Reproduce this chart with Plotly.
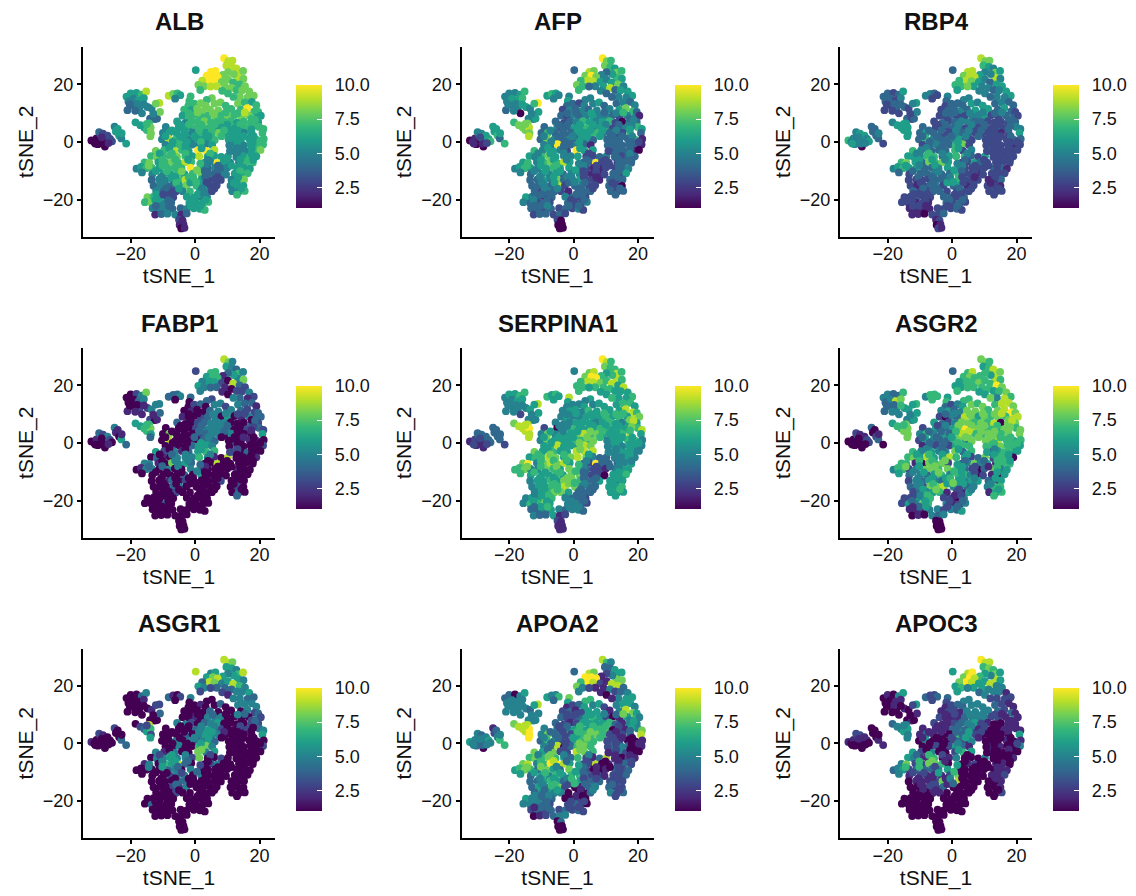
import plotly.graph_objects as go

TSNE_1 = [
 -32.2,-31.3,-30.6,-30.0,-29.4,-28.7,-28.0,-27.4,-29.8,-28.6,-27.2,-26.4,-25.8,-30.2,-28.3,-26.9,-29.0,-31.0,
 -25.0,-24.6,-24.0,-23.6,-22.9,-22.8,-21.4,
 -21.3,-20.0,-18.2,-16.6,-15.2,-20.7,-19.1,-17.5,-15.9,-21.0,-19.0,-17.3,-16.5,-14.8,-13.5,-14.0,-12.5,-11.8,-11.1,-10.9,-12.2,-18.0,-15.9,-13.0,-20.3,-18.6,
 -18.5,-17.0,-15.8,-15.0,-14.3,-13.8,-13.7,-13.9,-15.0,
 -8.2,-6.8,-5.5,-4.6,-6.2,
 9.0,10.3,11.6,9.7,11.4,12.8,13.4,14.9,13.3,15.0,12.0,10.2,8.6,
 4.9,6.3,3.6,5.5,7.0,4.4,6.0,2.2,1.0,2.8,0.2,8.3,10.2,11.8,13.8,15.5,6.7,4.8,9.3,11.3,
 1.6,12.9,14.6,16.8,8.4,10.2,
 -1.4,-1.8,5.2,3.6,18.2,16.3,13.9,11.9,
 -2.1,-0.3,1.7,3.3,6.0,7.9,9.5,13.3,15.4,17.6,19.0,
 -3.4,-1.2,0.6,2.4,4.6,7.2,11.2,14.2,16.2,18.4,19.6,
 -3.9,-2.0,0.0,1.8,3.9,6.2,8.2,10.1,12.2,14.3,16.6,19.2,20.4,
 -5.6,-3.0,-1.1,0.8,2.9,4.9,7.0,9.0,11.1,13.0,15.1,17.3,19.6,
 -9.1,-5.1,-3.8,-1.9,0.2,2.2,4.1,6.1,8.2,10.1,12.1,14.2,16.1,19.9,21.2,
 -10.0,-8.0,-5.7,-2.8,-0.8,1.3,3.2,5.2,7.3,9.1,11.2,13.1,15.2,17.6,20.9,
 -10.3,-8.3,-6.1,-3.9,-1.6,0.4,2.4,4.3,6.1,12.0,14.2,16.8,19.2,21.3,
 -9.2,-7.1,-5.0,-3.0,-0.9,1.1,3.3,5.3,12.6,15.1,17.2,19.4,21.1,
 -12.2,-9.6,-6.3,-4.1,-2.0,0.9,3.4,6.0,12.0,14.1,16.2,18.8,20.3,
 -13.7,-11.9,-9.9,-7.8,-5.6,-3.0,-0.9,3.9,5.9,8.1,10.2,12.8,14.9,17.0,19.0,
 -15.7,-14.2,-11.4,-9.2,-7.2,-5.2,-3.1,-1.2,3.0,4.8,6.9,8.8,10.9,13.6,15.8,17.9,
 -18.2,-16.8,-15.2,-13.4,-11.2,-8.4,-6.3,-4.2,-1.4,2.2,4.0,6.2,8.1,10.0,13.0,15.1,17.0,
 -16.5,-13.3,-9.8,-7.6,-5.5,-3.3,-0.7,1.9,3.8,5.7,7.6,9.6,12.3,14.4,16.3,
 -13.5,-11.2,-9.3,-7.2,-5.0,-3.0,-0.4,2.0,4.1,6.2,8.0,11.3,13.2,15.2,
 -12.9,-10.8,-8.7,-6.8,-4.9,-2.7,0.4,2.6,4.8,6.7,11.0,13.0,15.0,
 -12.1,-10.0,-8.0,-6.0,-3.9,-1.6,1.5,3.5,5.2,11.5,13.5,15.4,
 -14.8,-12.9,-10.9,-8.8,-6.8,-2.6,-0.4,1.6,3.7,
 -15.6,-13.5,-11.3,-9.2,-7.4,-1.8,0.3,2.4,4.1,
 -13.2,-11.3,-9.2,-7.0,-4.5,-2.6,-0.4,1.5,3.0,
 -12.4,-10.5,-8.6,-6.2,-4.3,-2.6,
 -5.0,-3.9,-4.8,-3.6,-4.3,-3.3,
 10.4,10.6,10.8,
 -2.0,0.8,5.5,9.5,13.2,15.4,17.5,18.6,
 -4.5,-2.0,1.9,6.0,10.0,14.0,18.0,
 -7.2,-3.4,1.2,5.2,9.0,13.2,17.5,
 -9.2,-4.8,-0.2,4.2,8.2,12.2,15.0,18.2,
 -7.0,-2.5,1.8,13.1,18.0,20.2,
 -8.0,-3.0,2.0,13.2,17.6,
 -11.0,-7.2,-3.0,4.7,13.0,17.5,
 -10.2,-6.2,-2.2,4.0,9.9,14.0,18.0,
 -14.4,-10.2,-5.3,3.2,7.1,11.3,14.0,
 -12.2,-8.8,-4.2,3.0,7.0,14.0,
 -10.5,-6.2,-2.0,3.1,7.0,13.4,
 -9.8,-5.9,-1.5,3.5,12.0,
 -9.0,-5.0,2.2,6.0,14.4,
 -12.0,-9.9,-7.7,0.8,2.8,13.0,
 -12.4,-8.3,-0.8,3.3,
 -10.2,-8.1,-1.4,1.6,-12.2,
 1.3,1.6,0.6,-0.6,0.3,
]
TSNE_2 = [
 0.5,0.0,1.2,-0.6,2.6,0.4,-1.6,0.8,3.4,2.9,2.2,1.0,0.2,-0.8,-0.6,-0.4,1.6,-0.6,
 5.3,3.6,4.5,2.2,1.2,3.0,-0.6,
 15.7,16.8,17.0,16.4,17.5,14.0,15.0,14.5,15.2,11.0,12.5,11.6,9.9,12.1,11.6,8.1,7.9,8.1,13.5,10.4,13.3,13.2,13.0,9.8,13.0,10.8,
 6.8,5.8,5.0,4.1,6.4,5.0,3.0,2.0,6.2,
 16.0,16.6,16.8,16.2,15.0,
 29.0,28.0,28.2,26.5,26.0,25.5,24.0,24.6,22.3,21.9,23.5,24.2,23.2,
 24.3,24.6,23.0,23.0,22.5,21.3,21.1,21.2,19.8,19.3,24.9,20.8,21.6,20.6,19.9,19.3,19.3,19.2,19.2,18.7,
 18.0,18.0,17.9,17.5,17.7,16.8,
 15.8,14.2,15.2,14.6,16.0,15.4,15.6,15.6,
 12.5,13.3,13.4,12.6,13.3,13.7,12.6,13.3,13.7,13.9,12.7,
 11.2,11.0,11.5,10.7,11.2,10.9,11.4,11.2,11.7,10.6,10.4,
 9.1,8.9,9.4,8.6,9.0,8.7,9.2,9.0,9.3,8.6,9.2,8.4,9.1,
 7.1,6.6,7.2,6.9,7.2,6.8,7.1,6.9,7.2,6.7,7.0,6.7,6.9,
 5.2,5.1,4.9,5.2,4.8,5.1,4.7,5.2,4.9,5.1,4.7,5.1,4.8,5.2,4.5,
 3.1,3.2,3.0,2.7,3.2,2.9,3.2,2.7,3.1,2.8,3.2,2.7,3.1,2.8,3.1,
 0.9,1.2,0.8,1.1,0.7,1.2,0.8,1.1,0.7,1.0,0.6,1.1,0.7,1.0,
 -1.0,-1.3,-0.8,-1.2,-0.9,-1.2,-0.8,-1.1,-0.9,-1.2,-0.8,-1.2,-0.9,
 -3.1,-2.9,-3.2,-2.8,-3.2,-2.9,-3.1,-2.8,-3.2,-2.8,-3.3,-3.0,-2.8,
 -4.9,-5.2,-5.1,-4.8,-5.2,-5.0,-4.9,-5.1,-4.8,-5.2,-5.0,-5.2,-4.9,-5.1,-5.0,
 -7.1,-7.3,-7.0,-7.2,-6.9,-7.3,-7.1,-6.9,-7.2,-6.9,-7.3,-7.0,-7.2,-7.1,-6.9,-7.2,
 -9.3,-8.7,-9.1,-9.0,-9.2,-9.3,-8.9,-9.2,-9.0,-8.9,-9.2,-9.0,-9.3,-8.9,-9.1,-9.0,-9.3,
 -10.6,-11.2,-11.0,-11.3,-10.9,-11.2,-11.0,-11.2,-10.9,-11.2,-11.0,-11.3,-11.0,-11.2,-10.9,
 -13.2,-13.0,-13.3,-12.9,-13.2,-13.1,-13.2,-13.0,-13.3,-13.0,-13.2,-13.1,-13.3,-13.0,
 -15.2,-15.0,-15.3,-15.0,-15.2,-15.1,-15.2,-15.0,-15.3,-15.0,-15.2,-15.0,-15.3,
 -17.0,-17.3,-17.0,-17.2,-17.1,-17.2,-17.0,-17.3,-17.1,-17.1,-17.3,-17.0,
 -19.2,-19.0,-19.3,-19.0,-19.2,-19.0,-19.3,-19.0,-19.2,
 -20.9,-21.2,-21.0,-21.2,-21.0,-21.2,-21.0,-21.2,-20.8,
 -23.0,-23.2,-23.0,-23.2,-23.0,-23.2,-23.0,-23.2,-23.6,
 -25.2,-25.0,-24.9,-25.2,-25.2,-24.8,
 -27.0,-27.2,-28.8,-28.6,-30.0,-29.8,
 0.8,-1.2,-3.2,
 10.0,10.2,10.0,10.2,10.0,10.2,8.0,7.7,
 6.0,6.0,6.0,6.0,6.0,6.0,5.5,
 4.0,4.0,4.0,4.0,4.0,4.0,4.3,
 2.0,2.0,2.0,2.0,2.0,2.0,2.0,1.9,
 0.0,0.0,0.0,-0.1,-0.1,0.0,
 -2.1,-2.2,-2.2,-2.2,-2.1,
 -4.0,-4.0,-4.0,-4.0,-4.1,-4.1,
 -6.2,-6.1,-6.1,-6.2,-6.2,-6.1,-6.2,
 -8.2,-8.1,-8.1,-8.2,-8.2,-8.2,-8.3,
 -10.1,-10.2,-10.2,-10.1,-10.2,-10.1,
 -12.1,-12.1,-12.2,-12.1,-12.2,-12.2,
 -14.1,-14.2,-14.1,-14.1,-14.2,
 -16.1,-16.2,-16.1,-16.2,-16.1,
 -18.1,-18.2,-18.1,-18.2,-18.2,-18.3,
 -20.1,-20.2,-20.1,-20.1,
 -22.1,-22.1,-22.1,-22.1,-22.2,
 -5.0,-7.5,-9.8,-12.2,-13.9,
]

ALB = [
 1,1,1,1,3,2,1,2,4,3,3,3,3,1,1,2,2,1, 5,6,6,6,5,6,6,
 6,6,6,7,9,5,5,6,6,4,4,5,5,5,5,4,4,4,9,8,8,5,5,5,4,4, 6,6,6,7,7,8,8,8,7, 9,8,7,6,5,
 10,9,9,9,9,9,9,8,9,8,8,8,8, 10,10,10,10,10,10,10,9,8,8,6,8,8,7,7,8,9,9,8,8, 7,7,8,8,7,7,
 7,7,8,7,8,8,8,7, 7,7,8,8,8,8,7,8,7,6,7, 7,6,8,8,8,8,7,7,10,7,7, 6,7,7,7,7,8,7,8,7,8,8,6,6,
 6,5,7,7,8,7,7,7,7,6,7,7,6, 5,6,6,6,7,7,7,6,6,6,6,6,7,7,7,
 5,6,6,6,5,7,6,7,8,6,6,6,5,6,7, 5,9,7,6,5,6,6,6,7,6,6,6,7,7, 5,6,7,6,5,5,5,6,5,5,6,7,7, 8,7,9,7,6,10,10,9,5,5,5,7,8,
 7,8,7,7,8,7,6,6,6,6,6,5,6,7,6, 7,8,6,7,8,7,9,7,6,5,10,6,5,5,7,7, 5,6,7,7,6,7,7,7,10,6,4,5,4,5,6,6,6,
 5,5,6,6,7,6,7,8,4,4,5,5,6,6,7, 4,5,5,6,7,9,8,6,3,3,3,5,6,8,
 4,5,4,4,6,8,7,6,3,3,5,6,6, 5,4,3,3,5,7,6,5,3,5,5,7, 8,7,6,4,3,6,6,5,5, 7,8,6,5,4,6,6,6,7, 5,5,5,4,4,5,6,6,7, 2,4,5,5,2,4, 3,2,2,2,1,2,
 6,5,5, 7,8,8,7,7,9,7,7, 6,7,7,7,6,7,7, 6,6,7,7,7,6,6, 6,6,6,6,7,6,6,6, 6,6,7,6,6,7, 6,6,6,5,6, 6,7,7,7,5,6, 7,7,6,5,6,6,6,
 8,7,7,5,4,6,6, 6,7,8,4,4,7, 5,6,7,4,3,6, 5,7,6,3,6, 4,6,5,3,6, 6,3,3,6,5,7, 6,4,6,6, 5,4,6,6,4,
 9,7,8,7,7,
]
AFP = [
 1,2,2,1,4,3,1,4,5,5,6,6,7,1,2,3,3,2, 6,6,6,7,4,6,7,
 5,5,5,6,7,5,6,6,7,4,5,5,1,6,5,5,5,6,10,6,7,5,6,5,5,5, 7,8,8,8,8,9,8,9,8, 6,7,6,5,5,
 10,8,7,8,7,6,8,7,7,6,6,4,5, 9,8,8,10,8,9,9,7,8,7,4,6,5,6,8,5,5,4,6,9, 7,4,6,6,5,4,
 5,6,5,5,6,5,5,4, 4,4,3,5,5,6,4,4,5,4,5, 3,5,4,5,4,5,5,6,8,7,4, 4,3,5,4,5,6,5,5,4,3,5,5,2,
 4,3,4,5,7,6,5,6,7,3,1,5,4, 4,5,3,4,6,6,7,5,6,7,3,4,5,7,6,
 4,7,4,4,4,6,6,7,7,5,4,3,3,7,4, 4,8,5,4,5,4,6,6,4,4,4,4,7,2, 5,4,10,4,4,5,4,2,4,4,4,4,2, 7,5,6,5,3,10,6,6,3,4,4,2,1,
 6,5,7,8,6,5,5,3,3,4,5,4,3,4,4, 6,7,5,7,8,7,9,6,4,4,10,3,3,3,4,4, 5,6,7,6,5,6,7,6,6,4,3,2,2,3,3,4,5,
 5,4,5,5,6,4,5,5,3,2,2,3,4,3,6, 4,4,6,5,8,4,5,6,3,3,2,4,3,4,
 4,4,5,4,9,3,4,5,3,3,4,3,1, 4,3,5,4,3,2,4,4,4,4,3,4, 6,5,4,1,4,5,4,3,3, 5,4,3,4,3,4,3,3,5, 4,4,3,4,3,4,3,5,3, 3,4,4,3,4,3, 3,1,1,1,1,1,
 4,4,3, 4,4,6,4,5,7,4,5, 4,4,6,6,5,4,5, 5,4,6,6,6,5,6, 5,4,5,6,6,4,4,5, 5,4,6,4,4,3, 6,4,6,4,4, 5,6,5,3,4,5, 6,6,5,4,3,4,4,
 7,6,7,5,3,3,4, 5,6,6,3,3,4, 5,6,5,3,2,4, 5,6,4,4,3, 5,5,4,3,4, 4,4,4,4,4,4, 5,4,3,4, 4,5,4,4,4,
 6,5,6,5,5,
]
RBP4 = [
 7,5,5,4,5,5,1,4,5,6,6,5,6,5,5,5,5,6, 4,4,4,4,4,5,3,
 4,4,3,4,6,4,4,3,5,3,3,4,3,4,3,4,3,4,6,5,5,4,4,3,3,3, 5,6,6,6,6,6,6,6,6, 5,5,4,3,3,
 9,8,8,7,6,5,8,6,9,5,5,5,6, 9,9,8,9,9,9,8,7,7,7,4,6,5,4,6,6,6,8,5,5, 6,4,5,6,5,5,
 5,4,5,5,6,5,5,4, 3,4,4,4,6,5,6,4,5,4,4, 3,4,4,5,4,6,6,4,6,4,3, 3,3,4,3,3,5,5,6,3,3,4,4,3,
 3,4,3,4,5,5,4,4,3,3,3,3,4, 4,3,3,3,4,5,3,3,3,4,3,4,3,5,5,
 4,6,4,3,3,5,4,4,3,3,3,3,2,3,6, 4,7,5,4,4,5,6,3,3,3,3,3,4,4, 3,4,5,4,4,7,8,3,3,3,3,2,3, 7,5,4,4,4,7,3,5,3,3,3,3,3,
 6,6,5,7,7,4,6,7,4,3,6,3,3,3,3, 7,8,6,4,8,7,8,6,3,3,6,4,3,3,3,3, 5,6,7,6,6,4,4,5,6,5,3,3,3,3,4,4,2,
 4,3,4,4,5,4,4,7,3,3,2,3,3,3,3, 3,3,3,3,4,4,6,7,3,3,3,2,2,4,
 3,2,3,4,5,3,4,6,2,3,3,3,2, 4,3,3,4,4,3,3,3,3,3,3,3, 3,3,4,3,3,4,4,3,4, 3,3,2,3,2,4,3,4,3, 2,2,2,2,3,3,3,4,3, 2,2,1,3,3,4, 2,3,1,2,3,2,
 3,3,3, 4,4,5,5,4,5,4,4, 3,4,5,5,4,3,4, 4,4,5,5,4,3,4, 4,4,4,5,4,3,3,4, 4,4,6,3,3,3, 5,4,6,3,3, 5,7,5,5,3,3, 6,6,5,4,3,3,3,
 6,5,6,5,3,3,3, 4,4,5,4,3,3, 4,4,4,3,2,3, 3,4,6,3,2, 4,4,4,3,3, 3,3,3,3,3,3, 3,3,4,4, 3,2,3,4,3,
 7,5,6,5,6,
]
FABP1 = [
 1,1,2,1,3,1,1,4,4,3,5,3,1,1,1,2,1,1, 5,2,2,1,6,2,4,
 1,1,3,5,8,1,1,4,5,2,1,3,2,3,5,3,1,2,5,4,5,1,2,2,1,2, 6,6,7,7,7,8,6,4,7, 4,4,4,5,1,
 9,8,5,6,5,4,7,5,5,8,6,4,2, 7,7,6,7,7,6,6,5,6,5,3,3,1,9,4,3,4,4,2,1, 5,3,3,5,2,1,
 4,1,3,4,3,2,4,5, 1,3,4,1,5,5,3,5,4,4,2, 1,2,1,1,4,5,5,4,3,3,4, 2,1,1,3,4,5,1,6,1,2,5,4,4,
 4,1,1,3,4,5,5,5,1,1,1,4,3, 1,1,1,1,3,5,5,5,5,5,1,1,3,4,3,
 1,8,1,1,1,3,4,5,5,1,5,1,1,1,6, 1,9,1,1,1,1,4,5,4,1,1,2,2,1, 1,3,1,1,4,6,6,5,5,1,1,1,3, 6,3,5,2,4,6,7,7,4,1,4,1,1,
 1,4,2,1,5,5,5,5,2,1,9,1,1,1,2, 5,5,2,1,8,5,6,4,1,1,9,1,1,1,1,1, 1,2,5,5,1,5,1,1,5,2,1,1,1,1,2,1,1,
 1,1,1,1,1,4,1,6,1,1,1,1,1,1,1, 1,1,2,4,1,3,4,1,1,1,3,1,1,1,
 1,1,1,4,5,1,1,1,1,1,1,3,1, 1,1,1,3,1,1,1,1,1,1,4,1, 1,1,1,3,1,1,1,1,1, 1,1,1,4,1,1,1,1,1, 1,1,1,1,1,1,1,1,1, 1,1,1,1,1,1, 1,1,1,1,1,1,
 1,1,3, 1,1,5,5,3,3,1,4, 1,1,4,5,4,1,3, 1,1,4,5,4,1,2, 1,1,4,5,1,1,2,1, 1,1,6,1,1,1, 1,1,6,3,1, 1,4,5,5,1,1, 1,5,5,1,1,1,1,
 4,4,5,2,1,1,1, 1,1,1,1,1,1, 1,1,1,1,1,1, 1,1,1,1,1, 1,1,1,1,1, 1,1,1,1,1,4, 1,1,1,1, 1,1,1,1,1,
 7,4,5,1,1,
]
SERPINA1 = [
 2,2,3,2,4,3,2,3,4,4,4,4,4,2,2,3,3,3, 4,4,4,4,4,4,3,
 5,6,6,7,7,5,5,6,6,5,5,5,3,5,6,5,5,5,9,6,6,5,5,5,5,5, 8,9,9,9,9,10,9,9,9, 7,6,7,6,6,
 10,9,7,8,7,7,9,7,9,7,7,6,7, 8,9,8,10,10,9,9,7,7,7,5,8,7,9,6,9,7,6,7,7, 7,6,6,6,6,6,
 9,6,6,5,7,6,6,7, 5,5,5,6,5,6,6,6,7,7,6, 5,6,6,5,7,6,6,6,9,9,7, 5,6,5,5,6,6,6,7,6,7,6,9,8,
 5,5,5,6,6,6,5,6,7,6,5,6,6, 3,1,5,6,7,6,6,6,7,7,6,7,6,7,9,
 5,8,5,6,6,8,9,7,8,6,6,6,7,9,6, 5,8,6,6,6,7,7,7,8,6,6,7,7,5, 6,7,9,6,6,6,9,8,6,5,6,6,5, 8,6,7,6,6,9,9,9,6,6,6,5,5,
 6,7,7,9,8,6,8,8,5,4,4,5,5,6,5, 8,10,5,8,9,8,9,6,4,3,10,4,4,4,5,6, 7,7,8,5,5,8,7,6,8,7,4,3,3,2,5,6,6,
 7,6,6,6,7,6,8,8,4,3,3,1,6,6,7, 5,6,6,7,6,8,7,7,4,4,6,6,5,6,
 5,6,6,7,7,9,8,5,4,4,6,6,7, 5,6,7,8,8,6,4,4,4,6,6,6, 5,6,6,8,7,5,4,4,3, 5,7,7,8,6,5,5,4,3, 4,4,5,6,5,4,5,5,4, 5,4,4,6,2,3, 3,2,2,2,2,2,
 5,5,5, 5,6,6,7,7,7,8,9, 5,5,6,6,6,6,8, 6,5,6,8,7,6,7, 6,6,6,8,7,6,6,6, 6,6,8,6,6,6, 6,6,8,5,6, 7,8,7,6,5,6, 7,7,7,5,4,5,5,
 8,7,8,5,3,4,5, 7,6,7,4,3,6, 6,6,8,4,4,6, 6,7,8,5,6, 6,7,4,4,7, 5,6,7,4,4,6, 6,6,5,4, 6,7,5,5,4,
 9,7,7,8,7,
]
ASGR2 = [
 1,1,1,1,3,1,1,2,3,2,2,3,3,1,1,1,1,1, 4,1,1,3,4,2,1,
 5,5,4,4,7,4,5,9,8,4,4,5,5,6,6,5,5,6,7,6,6,4,7,5,4,5, 6,7,7,8,8,8,8,8,7, 5,7,7,7,7,
 8,8,7,6,7,9,9,8,9,7,6,7,7, 7,9,7,8,7,7,7,6,6,6,4,8,7,7,10,8,7,7,7,7, 7,6,7,8,6,6,
 6,7,7,7,7,9,5,8, 4,3,5,6,8,7,8,7,9,9,8, 5,6,4,5,8,8,7,8,9,10,8, 3,1,5,4,9,8,6,8,7,8,7,9,9,
 6,4,3,5,8,8,7,8,7,9,1,8,8, 3,6,5,4,6,8,10,9,8,7,7,6,8,7,8,
 5,7,5,6,4,8,9,8,7,7,8,8,7,8,8, 3,6,5,4,4,7,8,5,8,7,9,7,6,7, 2,5,3,4,3,6,7,7,7,8,7,7,6, 7,5,6,5,5,8,4,7,3,6,7,6,6,
 7,8,6,9,6,6,9,6,3,4,8,3,7,7,1, 7,7,2,1,8,7,8,3,4,5,8,5,6,2,7,7, 5,7,7,3,5,8,8,7,8,6,4,3,1,4,8,5,6,
 6,4,5,4,6,7,5,7,7,5,1,3,2,1,6, 3,5,4,6,5,4,8,6,5,6,6,4,2,6,
 4,5,3,8,8,9,5,6,4,5,5,7,7, 3,4,5,6,7,2,3,2,6,2,6,7, 3,3,6,5,7,3,3,1,5, 3,6,5,8,7,5,2,3,5, 2,2,2,5,5,3,5,4,6, 1,2,1,5,4,5, 1,1,1,1,1,1,
 8,7,6, 4,5,8,8,8,9,8,9, 3,5,8,8,8,7,8, 4,4,7,9,8,8,8, 4,4,6,8,8,8,7,7, 4,4,7,7,7,7, 5,4,6,5,7, 6,7,6,6,6,6, 7,7,8,4,4,7,6,
 8,6,8,6,3,2,7, 5,6,8,6,3,6, 5,6,6,6,5,6, 5,7,6,6,5, 6,8,3,5,6, 3,5,7,2,3,7, 4,6,3,4, 4,6,3,4,2,
 7,6,7,7,8,
]
ASGR1 = [
 2,1,1,1,2,1,1,1,3,2,1,1,1,1,1,1,1,1, 3,1,1,1,4,1,4,
 1,1,1,4,5,1,1,1,2,1,1,1,1,1,2,1,1,1,3,4,3,1,1,1,1,1, 1,3,4,6,9,7,3,6,3, 4,2,1,3,1,
 9,9,8,6,6,5,7,9,6,5,6,5,6, 5,6,6,8,9,9,8,4,6,5,9,5,6,9,7,5,4,3,4,4, 3,5,5,6,3,2,
 5,1,1,1,4,4,5,5, 1,1,2,1,1,4,1,5,5,5,5, 1,1,1,1,4,1,1,1,5,3,4, 1,1,2,1,5,5,5,1,1,1,1,5,3,
 5,5,3,1,4,5,6,1,1,1,1,3,3, 1,1,1,1,4,5,6,5,3,1,1,1,3,4,5,
 1,1,1,4,1,5,6,5,5,1,1,1,1,1,6, 1,1,5,1,5,4,5,6,4,1,1,1,1,1, 1,1,5,1,1,7,8,5,1,1,1,1,3, 5,2,5,1,1,8,5,6,1,1,1,1,1,
 1,5,5,6,5,5,3,1,1,3,1,1,1,1,1, 2,5,1,7,6,9,4,1,1,3,5,1,1,1,1,1, 1,1,1,1,1,4,5,1,5,1,1,1,1,1,1,1,1,
 1,1,1,3,5,5,1,5,1,1,1,1,1,1,1, 1,1,1,1,4,4,5,1,1,1,1,1,1,1,
 1,1,1,3,3,5,1,1,1,1,1,1,1, 1,1,1,3,1,1,1,1,1,1,1,1, 1,1,1,1,1,1,1,1,1, 1,4,1,1,1,1,1,1,1, 1,1,1,1,1,1,1,1,1, 1,1,1,1,1,1, 1,1,1,1,1,1,
 1,1,1, 1,1,4,1,5,4,3,4, 1,1,5,5,1,3,1, 1,1,5,6,2,1,1, 1,1,5,6,1,1,1,1, 1,1,6,1,1,1, 1,1,8,1,1, 3,6,5,3,1,1, 5,6,4,1,1,1,1,
 5,6,4,1,1,1,1, 1,1,3,1,1,1, 1,1,1,1,1,1, 1,4,1,1,1, 1,1,1,1,1, 1,1,1,1,1,1, 1,1,1,1, 1,1,1,1,1,
 8,3,4,1,1,
]
APOA2 = [
 6,5,5,5,5,5,1,5,5,4,5,6,5,4,4,5,5,5, 2,3,4,5,7,5,7,
 4,4,1,5,6,5,5,5,5,5,5,5,5,5,4,5,5,5,9,5,6,5,5,5,5,5, 8,9,9,9,9,10,10,10,9, 6,5,5,7,4,
 9,7,5,4,4,6,6,6,8,8,5,3,2, 9,8,10,10,10,10,9,7,8,5,4,3,2,9,9,4,2,3,2,5, 5,3,4,5,2,1,
 8,6,7,7,6,6,5,2, 2,3,4,6,5,6,3,5,6,6,5, 3,4,2,3,6,6,2,5,9,8,6, 4,3,3,4,6,7,6,3,1,2,6,7,5,
 4,3,2,3,6,6,6,6,7,4,2,5,5, 5,4,3,5,6,7,6,7,7,8,1,3,2,5,8,
 5,8,4,3,3,6,7,7,8,7,3,2,3,3,9, 4,7,5,3,3,6,7,7,7,4,3,1,1,2, 5,4,9,1,4,7,8,7,5,5,4,1,2, 8,6,8,3,3,9,8,7,4,5,3,1,1,
 7,8,7,8,7,6,4,3,2,4,9,2,1,3,2, 8,9,5,7,10,10,9,6,3,3,9,1,2,3,4,3, 6,7,8,7,4,8,6,4,8,5,3,1,1,2,4,3,4,
 6,4,6,5,7,6,7,7,4,3,3,2,3,3,4, 4,4,6,7,6,4,8,6,4,4,4,3,3,3,
 4,6,5,7,8,3,1,2,4,5,4,3,3, 4,5,6,5,5,1,1,1,4,5,3,4, 6,5,5,4,4,1,1,3,1, 5,5,5,4,3,3,4,3,1, 3,4,3,4,3,4,3,4,3, 1,2,3,4,5,5, 1,4,1,1,1,1,
 3,3,2, 3,3,6,5,4,8,5,6, 3,4,7,7,7,3,6, 4,3,7,8,7,2,4, 5,4,6,8,7,3,2,1, 4,3,8,3,1,2, 4,3,8,3,1, 5,8,5,5,2,2, 7,9,4,3,1,2,3,
 8,8,5,4,2,1,3, 6,7,6,4,2,3, 5,6,5,3,3,3, 5,7,3,4,4, 4,6,2,5,3, 5,4,5,2,1,3, 5,4,3,3, 4,4,3,3,2,
 7,6,6,7,7,
]
APOC3 = [
 2,1,2,1,3,1,1,2,3,3,2,2,1,1,1,1,2,1, 1,1,1,1,2,1,2,
 1,2,1,5,6,1,1,2,2,1,2,1,1,2,1,1,2,1,6,2,3,2,1,1,1,1, 4,5,5,6,5,6,5,5,5, 4,3,3,4,3,
 10,9,9,7,8,7,8,6,9,6,5,6,7, 9,10,8,10,9,10,9,8,6,7,6,6,6,9,5,5,6,5,6,5, 6,5,5,2,4,5,
 4,3,5,5,3,3,3,3, 2,3,4,4,5,5,5,4,3,2,2, 2,3,3,2,5,5,5,4,3,4,2, 3,2,2,2,4,5,5,5,3,3,2,5,2,
 3,2,2,3,4,5,6,3,2,1,1,2,2, 2,2,2,2,4,6,4,3,2,2,1,1,2,2,2,
 2,4,2,1,1,7,4,6,3,1,1,1,1,1,6, 1,6,1,1,1,3,4,2,5,1,1,2,1,2, 1,1,3,1,3,6,4,2,2,2,1,1,5, 6,3,5,1,1,3,7,6,2,1,1,1,1,
 6,5,2,2,7,1,2,1,1,1,5,1,1,1,2, 5,8,3,3,8,8,7,1,1,2,3,1,1,2,2,1, 4,5,6,3,4,4,4,5,6,1,1,1,1,1,1,2,2,
 5,2,3,2,2,2,3,8,1,1,1,1,2,2,3, 1,2,2,2,3,8,4,9,1,1,1,1,1,2,
 1,1,2,3,3,4,1,1,1,1,1,1,2, 1,1,1,2,2,1,1,1,1,1,1,3, 1,1,1,1,1,1,1,1,1, 1,1,1,1,1,1,1,1,1, 1,1,1,1,1,1,1,1,1, 1,1,1,1,1,1, 1,1,1,1,1,1,
 1,1,1, 2,3,5,5,3,2,2,2, 2,2,4,5,3,1,2, 2,2,4,6,3,1,2, 2,1,3,6,2,1,1,1, 1,1,5,1,1,3, 1,1,6,1,2, 4,7,3,1,1,1, 7,8,2,1,1,1,1,
 7,7,3,1,1,1,2, 3,3,6,1,1,2, 2,2,2,1,1,2, 2,3,2,1,1, 2,2,1,1,1, 1,1,1,1,1,1, 1,1,1,1, 1,1,1,1,1,
 5,6,7,5,4,
]

GENES = ["ALB", "AFP", "RBP4", "FABP1", "SERPINA1", "ASGR2", "ASGR1", "APOA2", "APOC3"]
VALUES = [ALB, AFP, RBP4, FABP1, SERPINA1, ASGR2, ASGR1, APOA2, APOC3]
X_TICKS = [-20, 0, 20]
Y_TICKS = [-20, 0, 20]
BAR_TICKS = [2.5, 5.0, 7.5, 10.0]
BAR_LABELS = ["2.5", "5.0", "7.5", "10.0"]

assert len(TSNE_1) == len(TSNE_2), (len(TSNE_1), len(TSNE_2))
for g, v in zip(GENES, VALUES):
    assert len(v) == len(TSNE_1), (g, len(v), len(TSNE_1))

# The page adds an 8px body margin, so the figure is 8px smaller and positions are offset.
PAGE_MARGIN = 8
W, H = 1136 - PAGE_MARGIN, 896 - PAGE_MARGIN
def fx(px):
    return (px - PAGE_MARGIN) / W
def fy(px):
    return 1 - (px - PAGE_MARGIN) / H

FONT = "Liberation Sans, Arial, sans-serif"
TEXT = "#111111"
COL_LEFT = [83, 461.5, 840]
ROW_TOP = [47, 348, 648.5]
PANEL_W, PANEL_H = 192, 189.5
BAR_X = [296, 675, 1053]
BAR_BOTTOM = [208, 509, 811]
LABEL_GAP = "\u00a0\u2009"

fig = go.Figure()
layout = dict(
    width=W, height=H, autosize=False, margin=dict(l=0, r=0, t=0, b=0, pad=0),
    paper_bgcolor="white", plot_bgcolor="white", showlegend=False,
    font=dict(family=FONT, size=18, color="black"), annotations=[],
)
for i, (gene, vals) in enumerate(zip(GENES, VALUES)):
    r, c = divmod(i, 3)
    n = "" if i == 0 else str(i + 1)
    left, top = COL_LEFT[c], ROW_TOP[r]
    axis = dict(showgrid=False, zeroline=False, showline=True, linecolor="black", linewidth=2,
                ticks="outside", ticklen=4, tickwidth=2, tickcolor="black",
                tickfont=dict(family=FONT, size=18, color=TEXT), tickmode="array")
    layout["xaxis" + n] = dict(axis, domain=[fx(left), fx(left + PANEL_W)], range=[-34.8, 24.8],
                               tickvals=X_TICKS, anchor="y" + n, ticklabelstandoff=-4,
                               title=dict(text="tSNE_1", standoff=0, font=dict(family=FONT, size=21, color=TEXT)))
    layout["yaxis" + n] = dict(axis, domain=[fy(top + PANEL_H), fy(top)], range=[-32.8, 32.9],
                               tickvals=Y_TICKS, anchor="x" + n,
                               title=dict(text="tSNE_2", standoff=4, font=dict(family=FONT, size=21, color=TEXT)))
    layout["annotations"].append(dict(
        text="<b>%s</b>" % gene, xref="paper", yref="paper", x=fx(left + 96), y=fy(top - 25),
        xanchor="center", yanchor="middle", showarrow=False, borderpad=0, font=dict(family=FONT, size=24, color=TEXT)))
    fig.add_trace(go.Scatter(
        x=TSNE_1, y=TSNE_2, mode="markers", name=gene, xaxis="x" + n, yaxis="y" + n,
        marker=dict(
            size=7.8, color=vals, cmin=1, cmax=10, colorscale="Viridis", opacity=1, line=dict(width=0),
            colorbar=dict(
                x=fx(BAR_X[c]), xanchor="left", xpad=0, y=fy(BAR_BOTTOM[r]), yanchor="bottom", ypad=0,
                thickness=26, thicknessmode="pixels", len=123, lenmode="pixels", outlinewidth=0,
                tickmode="array", tickvals=BAR_TICKS, ticktext=[LABEL_GAP + t for t in BAR_LABELS],
                ticks="inside", ticklen=5, tickwidth=1.2, tickcolor="white",
                tickfont=dict(family=FONT, size=18, color=TEXT),
            ),
        ),
    ))
fig.update_layout(**layout)
fig.write_html("out.html")
